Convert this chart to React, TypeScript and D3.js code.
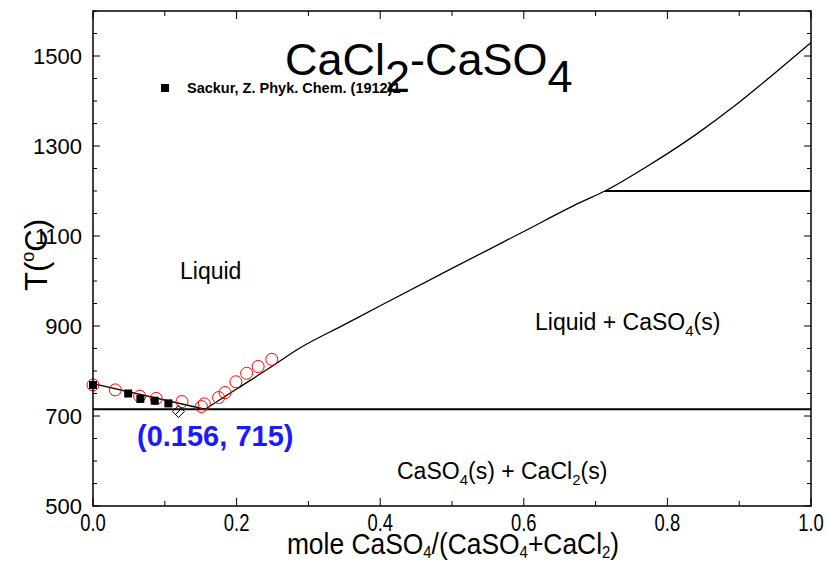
import React from "react"
import * as d3 from "d3"

// liquidus on the CaCl2 side
const liqAX = [0, 0.156]
const liqAT = [772, 715]

// liquidus on the CaSO4 side
const liqBX = [0.156, 0.2, 0.25, 0.288, 0.35, 0.4, 0.5, 0.6, 0.678, 0.713, 0.771, 0.8, 0.841, 0.896, 0.933, 1.0]
const liqBT = [715, 760, 811, 851, 903, 945, 1028, 1110, 1174, 1200, 1254, 1283, 1327, 1392, 1440, 1530]

// invariant lines
const eutecticT = 715
const eutecticX = 0.156
const transitionT = 1200
const transitionX = 0.713

// Sackur (1912) points
const sackurX = [0, 0.049, 0.066, 0.086, 0.105]
const sackurT = [769, 750, 738, 734, 728]

// other experimental points (red open circles)
const circX = [0, 0.031, 0.065, 0.088, 0.124, 0.151, 0.155, 0.175, 0.184, 0.199, 0.214, 0.23, 0.249]
const circT = [769, 758, 744, 739, 732, 721, 727, 741, 752, 776, 795, 810, 826]

// open diamond
const diaX = [0.119]
const diaT = [710]

const yLabels = [500, 700, 900, 1100, 1300, 1500]

const W = 828
const H = 562
const font = "'Liberation Sans', Arial, sans-serif"

export default function App() {
  const x = d3.scaleLinear().domain([0, 1]).range([93, 811])
  const y = d3.scaleLinear().domain([500, 1600]).range([506, 11])

  const line = d3.line<[number, number]>().x(d => x(d[0])).y(d => y(d[1]))
  const smooth = d3
    .line<[number, number]>()
    .x(d => x(d[0]))
    .y(d => y(d[1]))
    .curve(d3.curveMonotoneX)

  const liqA = liqAX.map((v, i) => [v, liqAT[i]] as [number, number])
  const liqB = liqBX.map((v, i) => [v, liqBT[i]] as [number, number])

  const xTicks = x.ticks(10)
  const yTicks = d3.range(500, 1601, 50)
  const fmt = d3.format(".1f")

  const [x0, x1] = x.range()
  const [yb, yt] = y.range()

  return (
    <svg width={W} height={H} style={{ position: "absolute", left: 0, top: 0 }} fontFamily={font}>
      <rect x={0} y={0} width={W} height={H} fill="#fff" />

      {/* curves */}
      <path d={line(liqA) ?? ""} fill="none" stroke="#000" strokeWidth={1.3} />
      <path d={smooth(liqB) ?? ""} fill="none" stroke="#000" strokeWidth={1.3} />
      <line x1={x0} x2={x1} y1={y(eutecticT)} y2={y(eutecticT)} stroke="#000" strokeWidth={2} />
      <line x1={x(transitionX)} x2={x1} y1={y(transitionT)} y2={y(transitionT)} stroke="#000" strokeWidth={2} />

      {/* points */}
      {circX.map((v, i) => (
        <circle key={"c" + i} cx={x(v)} cy={y(circT[i])} r={6} fill="none" stroke="#ff0000" strokeWidth={1} />
      ))}
      {sackurX.map((v, i) => (
        <rect key={"s" + i} x={x(v) - 4} y={y(sackurT[i]) - 4} width={8} height={8} fill="#000" />
      ))}
      {diaX.map((v, i) => {
        const cx = x(v)
        const cy = y(diaT[i])
        return (
          <g key={"d" + i} stroke="#000" strokeWidth={1} fill="none">
            <path d={`M${cx},${cy - 6}L${cx + 6},${cy}L${cx},${cy + 6}L${cx - 6},${cy}Z`} />
            <path d={`M${cx - 3},${cy + 3}L${cx + 3},${cy - 3}`} />
          </g>
        )
      })}

      {/* frame */}
      <rect x={x0} y={yt} width={x1 - x0} height={yb - yt} fill="none" stroke="#000" strokeWidth={1.5} />

      {/* x ticks */}
      {xTicks.map((t, i) => {
        const len = i % 2 === 0 ? 8 : 5
        return (
          <g key={"xt" + i} stroke="#000" strokeWidth={1}>
            <line x1={x(t)} x2={x(t)} y1={yb} y2={yb - len} />
            <line x1={x(t)} x2={x(t)} y1={yt} y2={yt + len} />
          </g>
        )
      })}
      {xTicks
        .filter((_, i) => i % 2 === 0)
        .map((t, i) => (
          <text
            key={"xl" + i}
            transform={`translate(${x(t)},531) scale(0.8,1)`}
            textAnchor="middle"
            fontSize={23}
          >
            {fmt(t)}
          </text>
        ))}

      {/* y ticks */}
      {yTicks.map((t, i) => {
        const len = (t - 500) % 200 === 0 ? 7 : 4
        return (
          <g key={"yt" + i} stroke="#000" strokeWidth={1}>
            <line x1={x0} x2={x0 + len} y1={y(t)} y2={y(t)} />
            <line x1={x1} x2={x1 - len} y1={y(t)} y2={y(t)} />
          </g>
        )
      })}
      {yLabels.map((t, i) => (
        <text key={"yl" + i} x={82} y={y(t) + 8} textAnchor="end" fontSize={22}>
          {t}
        </text>
      ))}

      {/* axis titles */}
      <text transform="translate(453,554) scale(0.88,1)" textAnchor="middle" fontSize={30}>
        mole CaSO<tspan fontSize={17} dy={4}>4</tspan>
        <tspan dy={-4}>/(CaSO</tspan>
        <tspan fontSize={17} dy={4}>4</tspan>
        <tspan dy={-4}>+CaCl</tspan>
        <tspan fontSize={17} dy={4}>2</tspan>
        <tspan dy={-4}>)</tspan>
      </text>
      <text transform="translate(47,255) rotate(-90)" textAnchor="middle" fontSize={31}>
        T(<tspan fontSize={18} dy={-13}>o</tspan>
        <tspan dy={13}>C)</tspan>
      </text>

      {/* title */}
      <text x={285} y={75} fontSize={45}>
        CaCl<tspan dy={17}>2</tspan>
        <tspan dy={-17}>-CaSO</tspan>
        <tspan dy={17}>4</tspan>
      </text>

      {/* legend */}
      <rect x={161} y={84} width={8} height={8} fill="#000" />
      <text x={187} y={93} fontSize={14.5} fontWeight="bold">
        Sackur, Z. Phyk. Chem. (1912)1
      </text>

      {/* region labels */}
      <text x={180} y={279} fontSize={23}>
        Liquid
      </text>
      <text x={535} y={330} fontSize={23}>
        Liquid + CaSO<tspan fontSize={15} dy={6}>4</tspan>
        <tspan dy={-6}>(s)</tspan>
      </text>
      <text x={397} y={479} fontSize={23}>
        CaSO<tspan fontSize={15} dy={6}>4</tspan>
        <tspan dy={-6}>(s) + CaCl</tspan>
        <tspan fontSize={15} dy={6}>2</tspan>
        <tspan dy={-6}>(s)</tspan>
      </text>
      <text x={137} y={446} fontSize={29} fontWeight="bold" fill="#1a1aff">
        ({eutecticX}, {eutecticT})
      </text>
    </svg>
  )
}
